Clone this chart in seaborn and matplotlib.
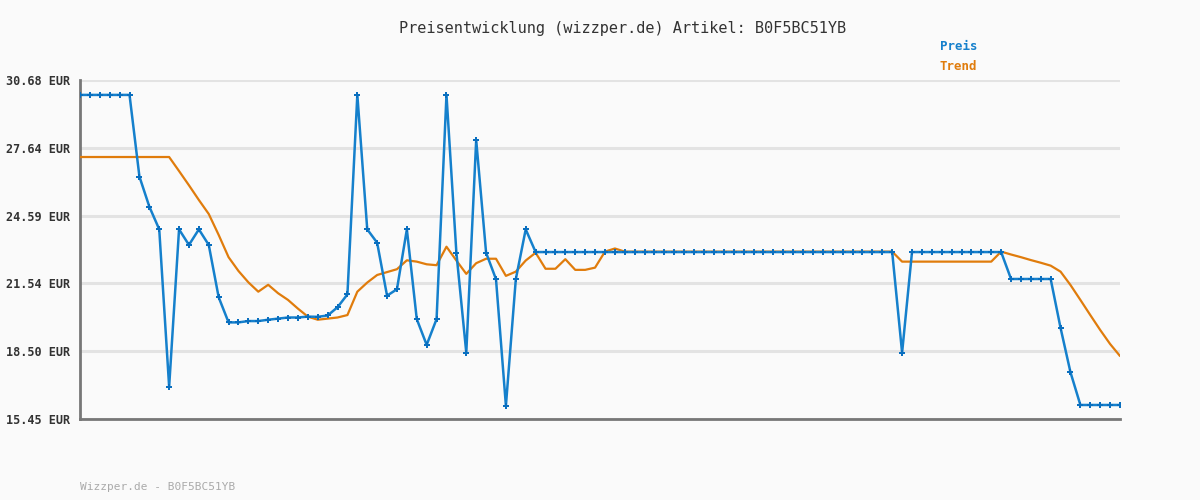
import numpy as np
import pandas as pd
import matplotlib
matplotlib.use("Agg")
import matplotlib.pyplot as plt
import seaborn as sns

preis = ([30.01] * 6 +
         [26.34, 24.99, 23.97, 16.90, 23.97, 23.27, 23.97, 23.27, 20.92, 19.79,
          19.79, 19.85, 19.85, 19.91, 19.96, 20.01, 20.01, 20.05, 20.04, 20.10,
          20.47, 21.05, 30.01, 23.97, 23.37, 20.99, 21.28, 23.97, 19.94, 18.78,
          19.94, 30.01, 22.92, 18.43, 27.98, 22.92, 21.73, 16.05, 21.73, 23.97] +
         [22.95] * 37 +
         [18.43] +
         [22.95] * 10 +
         [21.74] * 5 +
         [19.54, 17.55] +
         [16.08] * 5)

trend = ([27.22] * 10 +
         [26.59, 25.95, 25.29, 24.66, 23.72, 22.72, 22.10, 21.59, 21.17, 21.48,
          21.10, 20.80, 20.41, 20.05, 19.91, 19.96, 20.01, 20.12, 21.17, 21.58,
          21.92, 22.05, 22.18, 22.58, 22.52, 22.40, 22.36, 23.19, 22.57, 21.97,
          22.45, 22.65, 22.65, 21.88, 22.07, 22.57, 22.92, 22.20, 22.20, 22.63,
          22.15, 22.15, 22.25, 22.97, 23.11] +
         [22.97] * 28 +
         [22.52] * 10 +
         [22.97, 22.84, 22.72, 22.59, 22.47, 22.34, 22.07, 21.47, 20.80, 20.12,
          19.45, 18.82, 18.28])

y_ticks = np.linspace(15.45, 30.68, 6)
y_labels = ["15.45 EUR", "18.50 EUR", "21.54 EUR", "24.59 EUR", "27.64 EUR", "30.68 EUR"]

df = pd.DataFrame({"idx": np.arange(len(preis)), "preis": preis, "trend": trend})

blue = "#1580cc"
orange = "#e07c0c"
bg = "#fafafa"

sns.set_style("white", {"axes.facecolor": bg, "figure.facecolor": bg})
plt.rcParams["font.family"] = ["DejaVu Sans Mono"]

fig = plt.figure(figsize=(12, 5), dpi=100)
ax = fig.add_axes([80 / 1200, 1 - 419 / 500, 1040 / 1200, 339 / 500])

sns.lineplot(data=df, x="idx", y="trend", ax=ax, color=orange, linewidth=1.6, zorder=3)
sns.lineplot(data=df, x="idx", y="preis", ax=ax, color=blue, linewidth=1.8,
             marker="P", markersize=4, markeredgewidth=0, markerfacecolor="#0a6fbf",
             zorder=4)

ax.set_xlim(0, len(preis) - 1)
ax.set_ylim(15.45, 30.68)
ax.set_yticks(y_ticks)
ax.set_yticklabels(y_labels, fontsize=8.5, fontweight="bold", color="#333333")
ax.set_xticks([])
ax.set_xlabel("")
ax.set_ylabel("")
ax.tick_params(axis="y", length=0, pad=7)
ax.yaxis.grid(True, color="#e3e3e3", linewidth=2.2)
ax.set_axisbelow(True)
for side in ["top", "right"]:
    ax.spines[side].set_visible(False)
for side in ["left", "bottom"]:
    ax.spines[side].set_color("#777777")
    ax.spines[side].set_linewidth(2)

fig.text(623 / 1200, 1 - 28 / 500, "Preisentwicklung (wizzper.de) Artikel: B0F5BC51YB",
         ha="center", va="center", fontsize=11, color="#333333")
fig.text(940 / 1200, 1 - 47 / 500, "Preis", ha="left", va="center",
         fontsize=9, fontweight="bold", color=blue)
fig.text(940 / 1200, 1 - 67 / 500, "Trend", ha="left", va="center",
         fontsize=9, fontweight="bold", color=orange)
fig.text(80 / 1200, 1 - 487 / 500, "Wizzper.de - B0F5BC51YB", ha="left", va="center",
         fontsize=8, color="#aaaaaa")

fig.savefig("out.png", dpi=100, facecolor=bg)
